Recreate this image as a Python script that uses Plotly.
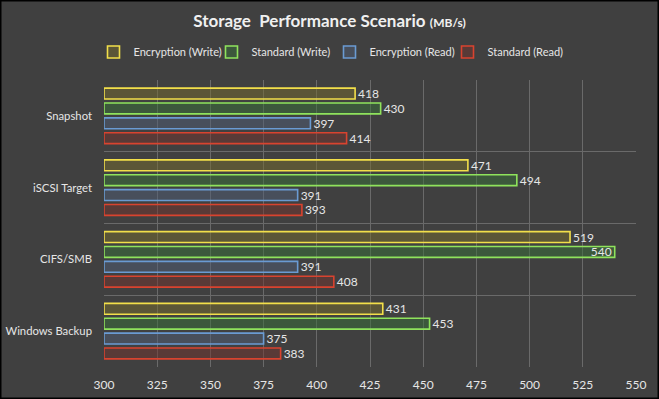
import plotly.graph_objects as go

categories = ["Snapshot", "iSCSI Target", "CIFS/SMB", "Windows Backup"]
series_names = ["Encryption (Write)", "Standard (Write)", "Encryption (Read)", "Standard (Read)"]
enc_write = [418, 471, 519, 431]
std_write = [430, 494, 540, 453]
enc_read = [397, 391, 391, 375]
std_read = [414, 393, 408, 383]
x_ticks = [300, 325, 350, 375, 400, 425, 450, 475, 500, 525, 550]

values = [enc_write, std_write, enc_read, std_read]
line_colors = ["#f2df4a", "#8fe35c", "#6a9bd3", "#d9432f"]
fill_colors = ["rgba(118,108,46,0.5)", "rgba(56,112,56,0.5)", "rgba(80,94,118,0.5)",
               "rgba(114,52,46,0.5)"]

BG = "#404040"
TXT = "#e6e6e6"
FONT = "Lato"

fig = go.Figure()
for name, vals, lc, fc in zip(series_names, values, line_colors, fill_colors):
    xmax = x_ticks[-1]
    positions = ["inside" if v > xmax - 15 else "outside" for v in vals]
    fig.add_trace(go.Bar(
        name=name,
        y=categories,
        x=[v - x_ticks[0] for v in vals],
        base=x_ticks[0],
        orientation="h",
        marker=dict(color=fc, line=dict(color=lc, width=1.6)),
        text=[str(v) for v in vals],
        textposition=positions,
        insidetextanchor="end",
        constraintext="none",
        textfont=dict(family=FONT, size=12, color=TXT),
        cliponaxis=False,
        hoverinfo="x+y+name",
    ))

W, H = 659, 399
L, R, T, B = 104, 23, 80, 32
pw = W - L - R
ph = H - T - B

fig.update_layout(
    width=W, height=H,
    margin=dict(l=L, r=R, t=T, b=B, pad=0, autoexpand=False),
    paper_bgcolor=BG,
    plot_bgcolor=BG,
    barmode="group",
    bargap=0.17,
    bargroupgap=0.27,
    title=dict(
        text="<b>Storage  Performance Scenario</b> <b><span style='font-size:12px'>(MB/s)</span></b>",
        x=0.5, xanchor="center", xref="container",
        y=1 - 21 / H, yanchor="middle", yref="container",
        font=dict(family=FONT, size=17, color="#f0f0f0"),
    ),
    legend=dict(
        orientation="h",
        x=0.5, xanchor="center", xref="container",
        y=1 - 52 / H, yanchor="middle", yref="container",
        font=dict(family=FONT, size=11, color=TXT),
        bgcolor="rgba(0,0,0,0)",
        itemwidth=30,
        entrywidth=73,
        entrywidthmode="pixels",
        traceorder="normal",
        itemclick=False,
    ),
    xaxis=dict(
        range=[x_ticks[0], x_ticks[-1]],
        tickvals=x_ticks,
        showgrid=True, gridcolor="#6a6a6a", gridwidth=1,
        zeroline=False, showline=False,
        tickfont=dict(family=FONT, size=12, color=TXT),
        ticks="", ticklen=0,
        ticklabelstandoff=9,
        automargin=False,
        fixedrange=True,
    ),
    yaxis=dict(
        autorange="reversed",
        type="category",
        tickson="boundaries",
        showgrid=True, gridcolor="#6a6a6a", gridwidth=1,
        showline=False, zeroline=False,
        ticks="", ticklen=0,
        tickfont=dict(family=FONT, size=11.3, color=TXT),
        ticklabelstandoff=11,
        automargin=False,
        fixedrange=True,
    ),
    shapes=[dict(
        type="rect", xref="paper", yref="paper",
        x0=-L / pw + 0.5 / pw, x1=1 + R / pw - 0.5 / pw,
        y0=-B / ph + 0.5 / ph, y1=1 + T / ph - 0.5 / ph,
        line=dict(color="#000000", width=2), fillcolor="rgba(0,0,0,0)", layer="above",
    )],
)

fig.write_html(
    "out.html",
    config={"displayModeBar": False},
    post_script="document.body.style.margin='0';document.body.style.overflow='hidden';",
)
